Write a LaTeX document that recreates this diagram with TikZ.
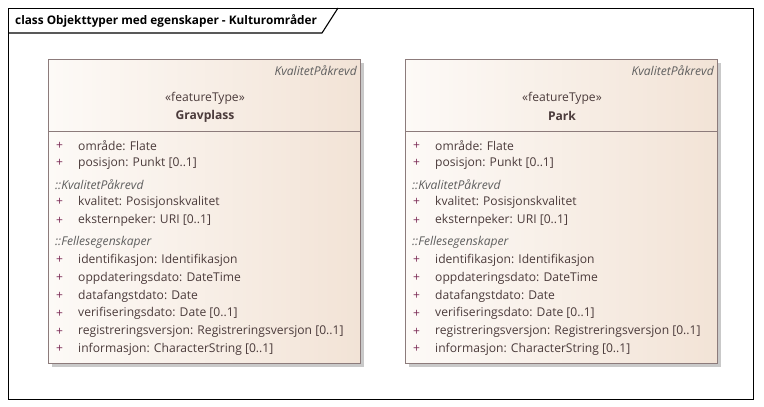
\documentclass[tikz,border=0pt]{standalone}
\usepackage{fontspec}
\setmainfont{Open Sans}
\definecolor{boxborder}{HTML}{8C7B7B}
\definecolor{boxleft}{HTML}{FDFAF7}
\definecolor{boxright}{HTML}{F2E3D6}
\definecolor{txt}{HTML}{4B3B3B}
\definecolor{plusc}{HTML}{7B2A55}
\definecolor{stereo}{HTML}{5E5E5E}
\definecolor{shadowgray}{HTML}{C9C9C9}
\newcommand\attrfont{\fontsize{12.1}{14}\selectfont}
\tikzset{
  attr/.style={anchor=west, inner sep=0pt, text=txt, font=\attrfont},
  plussign/.style={anchor=west, inner sep=0pt, text=plusc, font=\attrfont},
  sect/.style={anchor=west, inner sep=0pt, text=stereo, font=\attrfont\itshape},
  tagtext/.style={anchor=east, inner sep=0pt, text=stereo, font=\attrfont\itshape},
  stereotext/.style={anchor=center, inner sep=0pt, text=txt, font=\attrfont},
  nametext/.style={anchor=center, inner sep=0pt, text=txt, font=\attrfont\bfseries},
  classbox/.style={draw=boxborder, line width=1pt, left color=boxleft, right color=boxright,
    minimum width=312pt, minimum height=304pt, inner sep=0pt, anchor=north west},
  frameline/.style={draw=black, line width=1.1pt},
}
\newcommand\umlclass[3]{%
  \begin{scope}[shift={(#2,0)}]
    \fill[shadowgray] (4,63) rectangle (316,367);
    \node[classbox] (#1) at (0,59) {};
    \draw[boxborder, line width=1pt] ([yshift=-72pt]#1.north west) -- ([yshift=-72pt]#1.north east);
    \node[tagtext] (#1-tag) at (309,71) {KvalitetPåkrevd};
    \node[stereotext] (#1-st) at (157,98) {«featureType»};
    \node[nametext] (#1-name) at (157,116) {#3};
    \foreach \yy/\tt [count=\i] in {145.5/{område: Flate}, 163/{posisjon: Punkt [0..1]},
        202/{kvalitet: Posisjonskvalitet}, 220.5/{eksternpeker: URI [0..1]},
        260/{identifikasjon: Identifikasjon}, 278/{oppdateringsdato: DateTime},
        296/{datafangstdato: Date}, 313.5/{verifiseringsdato: Date [0..1]},
        331.5/{registreringsversjon: Registreringsversjon [0..1]},
        349/{informasjon: CharacterString [0..1]}} {
      \node[plussign] (#1-p\i) at (8,\yy) {+};
      \node[attr] (#1-a\i) at (30,\yy) {\tt};
    }
    \node[sect] (#1-s1) at (7,184.5) {::KvalitetPåkrevd};
    \node[sect] (#1-s2) at (7,242) {::Fellesegenskaper};
  \end{scope}}
\begin{document}
\begin{tikzpicture}[x=1pt,y=-1pt]
  \useasboundingbox (0,0) rectangle (764,407);
  \fill[white] (0,0) rectangle (764,407);
  \node[frameline, minimum width=745pt, minimum height=391pt, inner sep=0pt, anchor=north west] (frame) at (8,8) {};
  \coordinate (tabA) at (8,33);
  \coordinate (tabB) at (322,33);
  \coordinate (tabC) at (338,8);
  \draw[frameline] (tabA) -- (tabB) -- (tabC);
  \node[anchor=west, inner sep=0pt, font=\fontsize{11.8}{14}\selectfont\bfseries] (title) at (15,21) {class Objekttyper med egenskaper - Kulturområder};
  \umlclass{grav}{48}{Gravplass}
  \umlclass{park}{405}{Park}
\end{tikzpicture}
\end{document}
